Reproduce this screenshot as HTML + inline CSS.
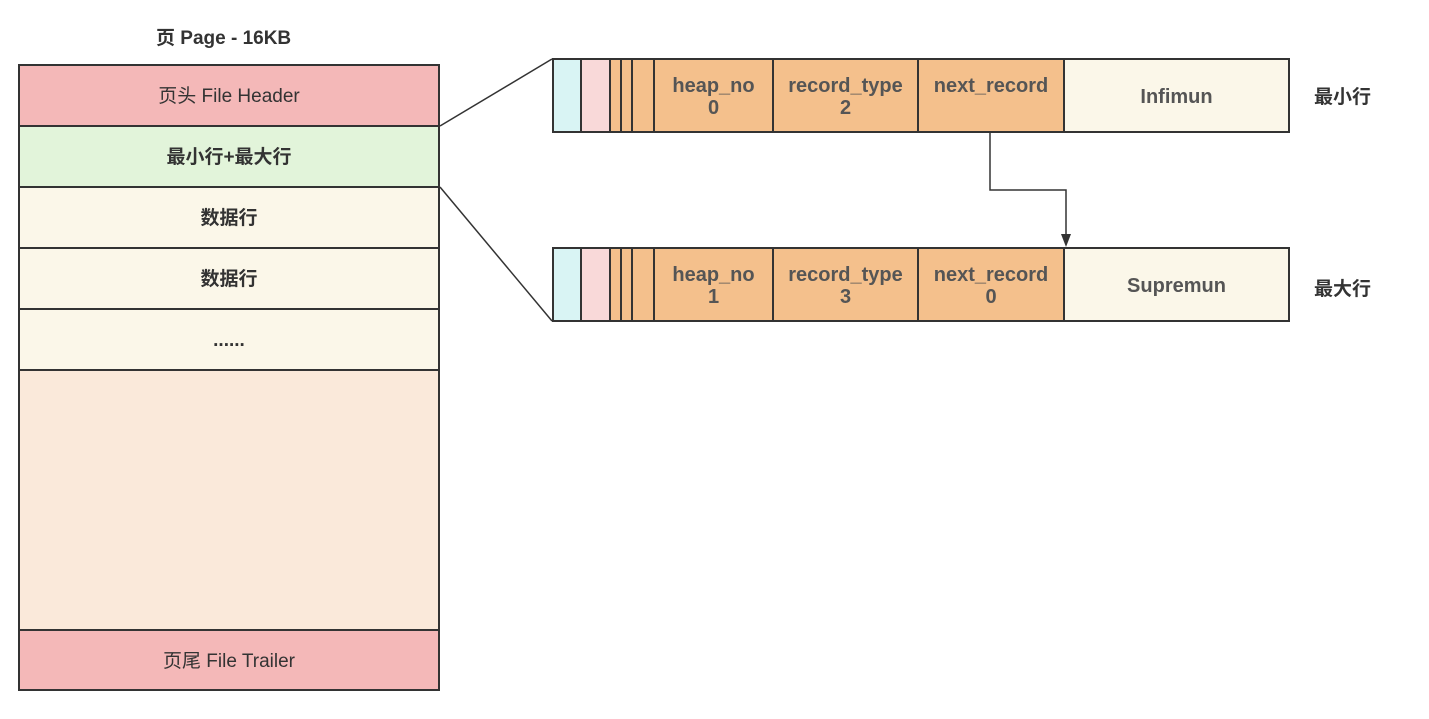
<!DOCTYPE html>
<html><head><meta charset="utf-8"><style>
body{margin:0;width:1429px;height:719px;background:#fff;position:relative;overflow:hidden;font-family:"Liberation Sans","Noto Sans CJK SC",sans-serif;}
.b{position:absolute;box-sizing:border-box;border:2px solid #333;display:flex;align-items:center;justify-content:center;text-align:center;color:#333;font-size:19px;line-height:22px;padding-top:3px}
.f{font-weight:bold}
.t{position:absolute;color:#333;font-weight:bold;font-size:19px}
.o{background:#f4c08c;color:#555;font-weight:bold;font-size:20px}
</style></head><body>
<div class="t" style="left:156px;top:23px">页 Page - 16KB</div>
<div class="b" style="left:18px;top:64px;width:422px;height:63px;background:#f4b8b8">页头 File Header</div>
<div class="b f" style="left:18px;top:125px;width:422px;height:63px;background:#e2f4da">最小行+最大行</div>
<div class="b f" style="left:18px;top:186px;width:422px;height:63px;background:#fbf7e9">数据行</div>
<div class="b f" style="left:18px;top:247px;width:422px;height:63px;background:#fbf7e9">数据行</div>
<div class="b f" style="left:18px;top:308px;width:422px;height:63px;background:#fbf7e9">......</div>
<div class="b" style="left:18px;top:369px;width:422px;height:262px;background:#fae9da"></div>
<div class="b" style="left:18px;top:629px;width:422px;height:62px;background:#f4b8b8">页尾 File Trailer</div>

<div class="b" style="left:552px;top:58px;width:30px;height:75px;background:#d9f4f4"></div>
<div class="b" style="left:580px;top:58px;width:31px;height:75px;background:#f9d9d9"></div>
<div class="b" style="left:609px;top:58px;width:13px;height:75px;background:#f4c08c"></div>
<div class="b" style="left:620px;top:58px;width:13px;height:75px;background:#f4c08c"></div>
<div class="b" style="left:631px;top:58px;width:24px;height:75px;background:#f4c08c"></div>
<div class="b o" style="left:653px;top:58px;width:121px;height:75px">heap_no<br>0</div>
<div class="b o" style="left:772px;top:58px;width:147px;height:75px">record_type<br>2</div>
<div class="b o" style="left:917px;top:58px;width:148px;height:75px;padding-bottom:22px">next_record</div>
<div class="b o" style="left:1063px;top:58px;width:227px;height:75px;background:#fbf7e9">Infimun</div>
<div class="t" style="left:1314px;top:82px">最小行</div>

<div class="b" style="left:552px;top:247px;width:30px;height:75px;background:#d9f4f4"></div>
<div class="b" style="left:580px;top:247px;width:31px;height:75px;background:#f9d9d9"></div>
<div class="b" style="left:609px;top:247px;width:13px;height:75px;background:#f4c08c"></div>
<div class="b" style="left:620px;top:247px;width:13px;height:75px;background:#f4c08c"></div>
<div class="b" style="left:631px;top:247px;width:24px;height:75px;background:#f4c08c"></div>
<div class="b o" style="left:653px;top:247px;width:121px;height:75px">heap_no<br>1</div>
<div class="b o" style="left:772px;top:247px;width:147px;height:75px">record_type<br>3</div>
<div class="b o" style="left:917px;top:247px;width:148px;height:75px">next_record<br>0</div>
<div class="b o" style="left:1063px;top:247px;width:227px;height:75px;background:#fbf7e9">Supremun</div>
<div class="t" style="left:1314px;top:274px">最大行</div>

<svg style="position:absolute;left:0;top:0" width="1429" height="719">
<line x1="440" y1="126" x2="552" y2="59" stroke="#333" stroke-width="1.5"/>
<line x1="440" y1="187" x2="552" y2="321" stroke="#333" stroke-width="1.5"/>
<polyline points="990,133 990,190 1066,190 1066,238" fill="none" stroke="#333" stroke-width="1.5"/>
<polygon points="1061,234 1071,234 1066,247" fill="#333"/>
</svg>
</body></html>
